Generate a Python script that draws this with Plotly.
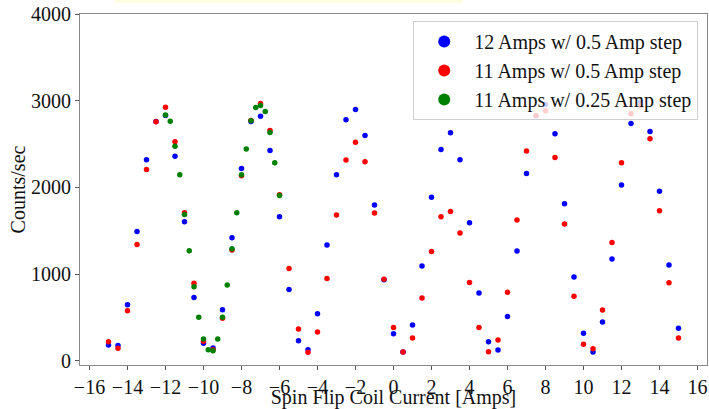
import plotly.graph_objects as go

x_half = [-15, -14.5, -14, -13.5, -13, -12.5, -12, -11.5, -11, -10.5, -10, -9.5, -9, -8.5, -8, -7.5,
          -7, -6.5, -6, -5.5, -5, -4.5, -4, -3.5, -3, -2.5, -2, -1.5, -1, -0.5, 0, 0.5, 1, 1.5, 2,
          2.5, 3, 3.5, 4, 4.5, 5, 5.5, 6, 6.5, 7, 7.5, 8, 8.5, 9, 9.5, 10, 10.5, 11, 11.5, 12, 12.5,
          13, 13.5, 14, 14.5, 15]

blue_12A = [180, 175, 645, 1490, 2317, 2760, 2830, 2360, 1603, 730, 200, 146, 588, 1418, 2218, 2760,
            2821, 2425, 1660, 822, 231, 127, 542, 1334, 2145, 2779, 2898, 2598, 1795, 935, 311, 100,
            411, 1091, 1887, 2437, 2629, 2318, 1591, 780, 219, 123, 511, 1265, 2160, 2825, 2955, 2617,
            1810, 965, 315, 100, 446, 1172, 2026, 2736, 2985, 2644, 1956, 1103, 373]

red_11A = [219, 142, 576, 1341, 2206, 2756, 2925, 2525, 1706, 892, 225, 125, 490, 1276, 2133, 2770,
           2967, 2655, 1914, 1064, 365, 96, 331, 949, 1680, 2314, 2521, 2294, 1703, 938, 384, 100,
           262, 723, 1260, 1660, 1722, 1472, 903, 384, 104, 238, 788, 1622, 2418, 2829, 2883, 2344,
           1576, 742, 188, 138, 584, 1364, 2283, 2848, 2945, 2560, 1730, 899, 262]

x_quarter = [-12, -11.75, -11.5, -11.25, -11, -10.75, -10.5, -10.25, -10, -9.75, -9.5, -9.25, -9,
             -8.75, -8.5, -8.25, -8, -7.75, -7.5, -7.25, -7, -6.75, -6.5, -6.25, -6]

green_11A = [2836, 2763, 2475, 2145, 1687, 1268, 853, 500, 250, 127, 115, 250, 500, 872, 1291, 1706,
             2145, 2441, 2767, 2921, 2944, 2875, 2633, 2283, 1906]

x_ticks = list(range(-16, 17, 2))
y_ticks = [0, 1000, 2000, 3000, 4000]

FONT = "Liberation Serif"
TXT = "#111111"

fig = go.Figure()
fig.add_trace(go.Scatter(x=x_half, y=blue_12A, mode="markers", name="12 Amps w/ 0.5 Amp step",
                         marker=dict(color="#0000ff", size=5.5)))
fig.add_trace(go.Scatter(x=x_half, y=red_11A, mode="markers", name="11 Amps w/ 0.5 Amp step",
                         marker=dict(color="#ff0000", size=5.5)))
fig.add_trace(go.Scatter(x=x_quarter, y=green_11A, mode="markers", name="11 Amps w/ 0.25 Amp step",
                         marker=dict(color="#008000", size=5.5)))

axis_common = dict(showgrid=False, zeroline=False, showline=True, linecolor="#888888", linewidth=1,
                   mirror=True, ticks="outside", ticklen=4, tickcolor="#555555", automargin=False,
                   tickfont=dict(family=FONT, size=20, color=TXT))

fig.update_xaxes(range=[-16.5, 16.5], tickvals=x_ticks,
                 title=dict(text="Spin Flip Coil Current [Amps]", font=dict(family=FONT, size=20, color=TXT),
                            standoff=7),
                 **axis_common)
fig.update_yaxes(range=[-50, 4000], tickvals=y_ticks,
                 title=dict(text="Counts/sec", font=dict(family=FONT, size=20, color=TXT), standoff=0),
                 **axis_common)

fig.update_layout(
    width=709, height=409,
    margin=dict(l=80, r=2, t=14, b=44),
    paper_bgcolor="white", plot_bgcolor="white",
    font=dict(family=FONT, size=20, color=TXT),
    legend=dict(x=0.986, y=0.98, xanchor="right", yanchor="top",
                bgcolor="rgba(255,255,255,0.8)", bordercolor="#d0d0d0", borderwidth=1,
                font=dict(family=FONT, size=20, color=TXT), itemsizing="constant",
                itemwidth=50),
    showlegend=True,
    shapes=[dict(type="rect", xref="paper", yref="paper", x0=0.0558, x1=0.611, y0=1.031, y1=1.045,
                 fillcolor="#fdfde0", line=dict(width=0), layer="below")],
)

# remove the default 8px page margin so the 709x409 figure fills the window exactly
fig.write_html("out.html", config={"displayModeBar": False},
               post_script="document.body.style.margin='0';")
